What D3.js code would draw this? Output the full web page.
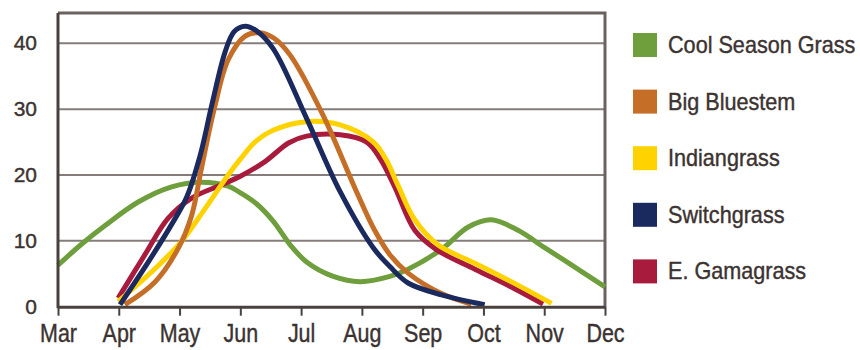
<!DOCTYPE html>
<html>
<head>
<meta charset="utf-8">
<script src="https://cdn.jsdelivr.net/npm/d3@7"></script>
<style>
  body { margin: 0; background: #fff; }
  svg { display: block; }
</style>
</head>
<body>
<script>
const width = 860;
const height = 350;
const margin = { top: 13, right: 255, bottom: 43.3, left: 58 };

// month index: Mar = 0 ... Dec = 9
const months = ["Mar", "Apr", "May", "Jun", "Jul", "Aug", "Sep", "Oct", "Nov", "Dec"];
const yTicks = [0, 10, 20, 30, 40];

// [month index, value]
const coolSeason = [[0, 6.3], [0.4, 9.6], [0.77, 12.3], [1.32, 15.9], [1.87, 18.2], [2.35, 18.9], [2.8, 18.3],
  [3.0, 17.3], [3.27, 15.6], [3.54, 13], [3.82, 9.4], [4.09, 6.8], [4.53, 4.6], [4.97, 3.8], [5.46, 4.6],
  [5.76, 5.7], [6.31, 8.7], [6.75, 12.1], [7.13, 13.2], [7.57, 11.6], [8.0, 9.0], [8.34, 7.0], [9, 3.0]];
const bigBluestem = [[1.1, 0.3], [1.6, 3.8], [1.98, 8.9], [2.2, 13.9], [2.36, 21.0], [2.58, 30.4], [2.8, 37.5],
  [3.08, 41.1], [3.32, 41.6], [3.55, 40.8], [3.82, 38.2], [4.36, 29.1], [4.91, 17.5], [5.21, 11.6],
  [5.46, 7.9], [5.76, 5.1], [6.31, 2.0], [6.8, 0.4]];
const indiangrass = [[0.99, 0.8], [1.6, 5.8], [2.03, 9.9], [2.42, 14.9], [2.8, 20], [3.0, 22.4], [3.24, 25],
  [3.54, 26.8], [4.09, 28.1], [4.64, 27.6], [5.19, 25.0], [5.4, 22.3], [5.6, 18.3], [5.87, 13.2],
  [6.25, 9.4], [6.86, 6.6], [7.52, 3.5], [8.12, 0.5]];
const switchgrass = [[1.02, 0.3], [1.5, 7], [1.87, 12.5], [2.12, 16.7], [2.34, 23], [2.53, 30.6], [2.75, 38.7],
  [2.9, 41.8], [3.08, 42.6], [3.25, 42], [3.54, 39.2], [4.09, 28.6], [4.64, 17.5], [5.19, 8.9],
  [5.46, 6.1], [5.76, 3.6], [6.31, 1.8], [7.02, 0.3]];
const eGamagrass = [[0.99, 1.3], [1.43, 7.9], [1.81, 13.4], [2.2, 16.5], [2.69, 18.5], [3.0, 19.8], [3.4, 22.0],
  [3.8, 24.9], [4.09, 25.9], [4.64, 26.1], [5.08, 25], [5.3, 22.5], [5.54, 18.2],
  [5.87, 11.6], [6.22, 8.7], [6.86, 5.7], [7.52, 2.7], [7.98, 0.4]];

const seriesNames = ["Cool Season Grass", "Big Bluestem", "Indiangrass", "Switchgrass", "E. Gamagrass"];
const seriesColors = ["#6f9f3d", "#c56e28", "#ffd200", "#1b2a5e", "#a81b3d"];
const seriesData = [coolSeason, bigBluestem, indiangrass, switchgrass, eGamagrass];
const drawOrder = [0, 4, 2, 1, 3];

const textColor = "#3b3331";
const font = "'Liberation Sans', Arial, sans-serif";

const svg = d3.select("body").append("svg")
  .attr("width", width)
  .attr("height", height)
  .attr("viewBox", [0, 0, width, height]);

const x = d3.scaleLinear()
  .domain([0, months.length - 1])
  .range([margin.left, width - margin.right]);

const y = d3.scaleLinear()
  .domain([0, 44.6])
  .range([height - margin.bottom, margin.top]);

// gridlines
svg.append("g")
  .selectAll("line")
  .data(yTicks.filter(d => d > 0))
  .join("line")
  .attr("x1", x(0))
  .attr("x2", x(9))
  .attr("y1", d => y(d))
  .attr("y2", d => y(d))
  .attr("stroke", "#857d7b")
  .attr("stroke-width", 2);

// frame top + right
svg.append("path")
  .attr("d", `M${x(0)},${y(44.6)}H${x(9)}V${y(0)}`)
  .attr("fill", "none")
  .attr("stroke", "#6a6260")
  .attr("stroke-width", 3);

// lines
const line = d3.line()
  .x(d => x(d[0]))
  .y(d => y(d[1]))
  .curve(d3.curveCatmullRom.alpha(0.5));

svg.append("g")
  .selectAll("path")
  .data(drawOrder)
  .join("path")
  .attr("d", i => line(seriesData[i]))
  .attr("fill", "none")
  .attr("stroke", i => seriesColors[i])
  .attr("stroke-width", 5);

// x axis
const xAxis = d3.axisBottom(x)
  .tickValues(d3.range(months.length))
  .tickFormat(i => months[i])
  .tickSize(9)
  .tickSizeOuter(0)
  .tickPadding(9);

const gx = svg.append("g")
  .attr("transform", `translate(0, ${y(0)})`)
  .call(xAxis);

gx.select(".domain").attr("stroke", "#4a403e").attr("stroke-width", 3);
gx.selectAll(".tick line").attr("stroke", "#4a403e").attr("stroke-width", 2);
// condensed look: squeeze the glyphs sideways
gx.selectAll(".tick text")
  .attr("fill", textColor)
  .attr("stroke", textColor)
  .attr("stroke-width", 0.4)
  .attr("font-family", font)
  .attr("font-size", 25)
  .attr("transform", "scale(0.86, 1)");

// y axis
const yAxis = d3.axisLeft(y)
  .tickValues(yTicks)
  .tickSize(0)
  .tickSizeOuter(0)
  .tickPadding(21);

const gy = svg.append("g")
  .attr("transform", `translate(${x(0)}, 0)`)
  .call(yAxis);

gy.select(".domain")
  .attr("d", `M0,${y(44.6)}V${y(0) + 1.5}`)
  .attr("stroke", "#4a403e")
  .attr("stroke-width", 3);
gy.selectAll(".tick text")
  .attr("fill", textColor)
  .attr("stroke", textColor)
  .attr("stroke-width", 0.4)
  .attr("font-family", font)
  .attr("font-size", 21)
  .attr("dy", "0.3em");

// legend
const legend = svg.append("g")
  .attr("transform", "translate(633, 45)");

const rows = legend.selectAll("g")
  .data(seriesNames)
  .join("g")
  .attr("transform", (d, i) => `translate(0, ${i * 56.6})`);

rows.append("rect")
  .attr("x", 0)
  .attr("y", -12)
  .attr("width", 24)
  .attr("height", 24)
  .attr("fill", (d, i) => seriesColors[i]);

rows.append("text")
  .attr("transform", "translate(35, 0) scale(0.94, 1)")
  .attr("dy", "0.35em")
  .attr("fill", textColor)
  .attr("stroke", textColor)
  .attr("stroke-width", 0.4)
  .attr("font-family", font)
  .attr("font-size", 23)
  .text(d => d);
</script>
</body>
</html>
